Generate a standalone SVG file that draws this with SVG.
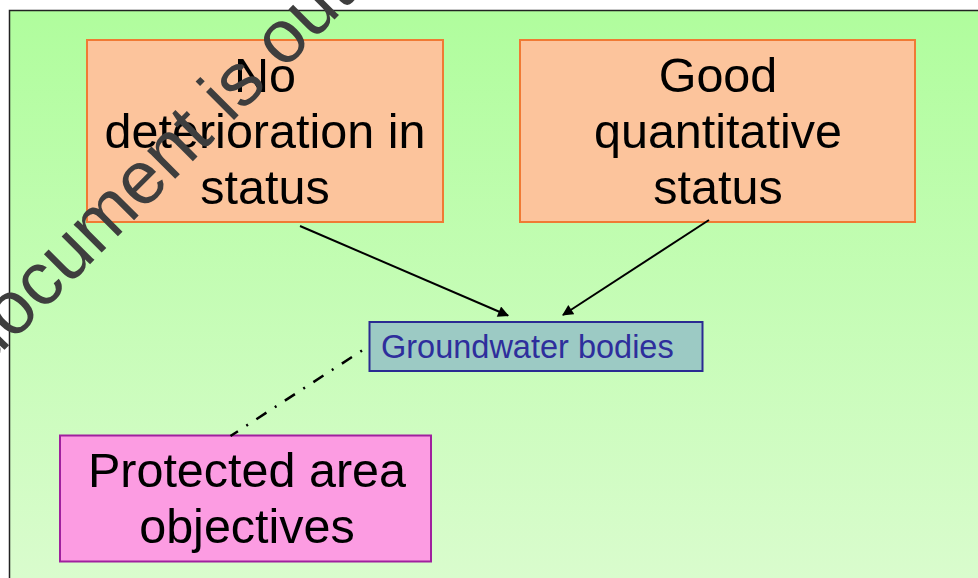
<svg xmlns="http://www.w3.org/2000/svg" width="978" height="578" viewBox="0 0 978 578">
<defs>
<linearGradient id="bg" x1="0" y1="0" x2="0" y2="1">
<stop offset="0" stop-color="#b0fd9d"/>
<stop offset="1" stop-color="#dafcce"/>
</linearGradient>
<marker id="ah" viewBox="0 0 10 10" refX="9" refY="5" markerWidth="6" markerHeight="5.5" orient="auto" markerUnits="strokeWidth">
<path d="M0,0 L10,5 L0,10 z" fill="#000"/>
</marker>
<style>
.big{font-family:"Liberation Sans",Arial,sans-serif;font-size:48.5px;fill:#000;text-anchor:middle}
.goal{fill:#fcc49c;stroke:#f07a34;stroke-width:2}
.arrow{stroke:#000;stroke-width:2;fill:none;marker-end:url(#ah)}
</style>
</defs>
<rect x="0" y="0" width="978" height="578" fill="#fff"/>
<rect x="9.5" y="10.5" width="980" height="580" fill="url(#bg)" stroke="#222" stroke-width="1.5"/>

<g id="node-no-deterioration">
<rect class="goal" x="87" y="40" width="356" height="182"/>
<text class="big" x="265" y="92">No</text>
<text class="big" x="265" y="148">deterioration in</text>
<text class="big" x="265" y="204">status</text>
</g>

<g id="node-good-quantitative">
<rect class="goal" x="520" y="40" width="395" height="182"/>
<text class="big" x="718" y="92">Good</text>
<text class="big" x="718" y="148">quantitative</text>
<text class="big" x="718" y="204">status</text>
</g>

<g id="node-groundwater">
<rect x="369.5" y="322" width="333" height="49" fill="#9ccac4" stroke="#2a2a92" stroke-width="2"/>
<text x="381" y="358" font-family="Liberation Sans, Arial, sans-serif" font-size="32.5" fill="#2e2e9c">Groundwater bodies</text>
</g>

<g id="node-protected">
<rect x="60" y="435.5" width="371" height="126" fill="#fc9ce2" stroke="#a0209e" stroke-width="2"/>
<text class="big" x="247" y="487">Protected area</text>
<text class="big" x="247" y="543">objectives</text>
</g>

<g id="connectors">
<line class="arrow" x1="300" y1="226" x2="508" y2="315.5"/>
<line class="arrow" x1="709" y1="220" x2="563" y2="315"/>
<line x1="362" y1="350.5" x2="230.5" y2="436" stroke="#000" stroke-width="2.5" stroke-dasharray="2 10 12 10"/>
</g>

<text transform="translate(12.4,341.7) rotate(-45)" x="-41.7" y="0" font-family="Liberation Sans, Arial, sans-serif" font-size="75" fill="#3e3e3e">document is out</text>
</svg>
